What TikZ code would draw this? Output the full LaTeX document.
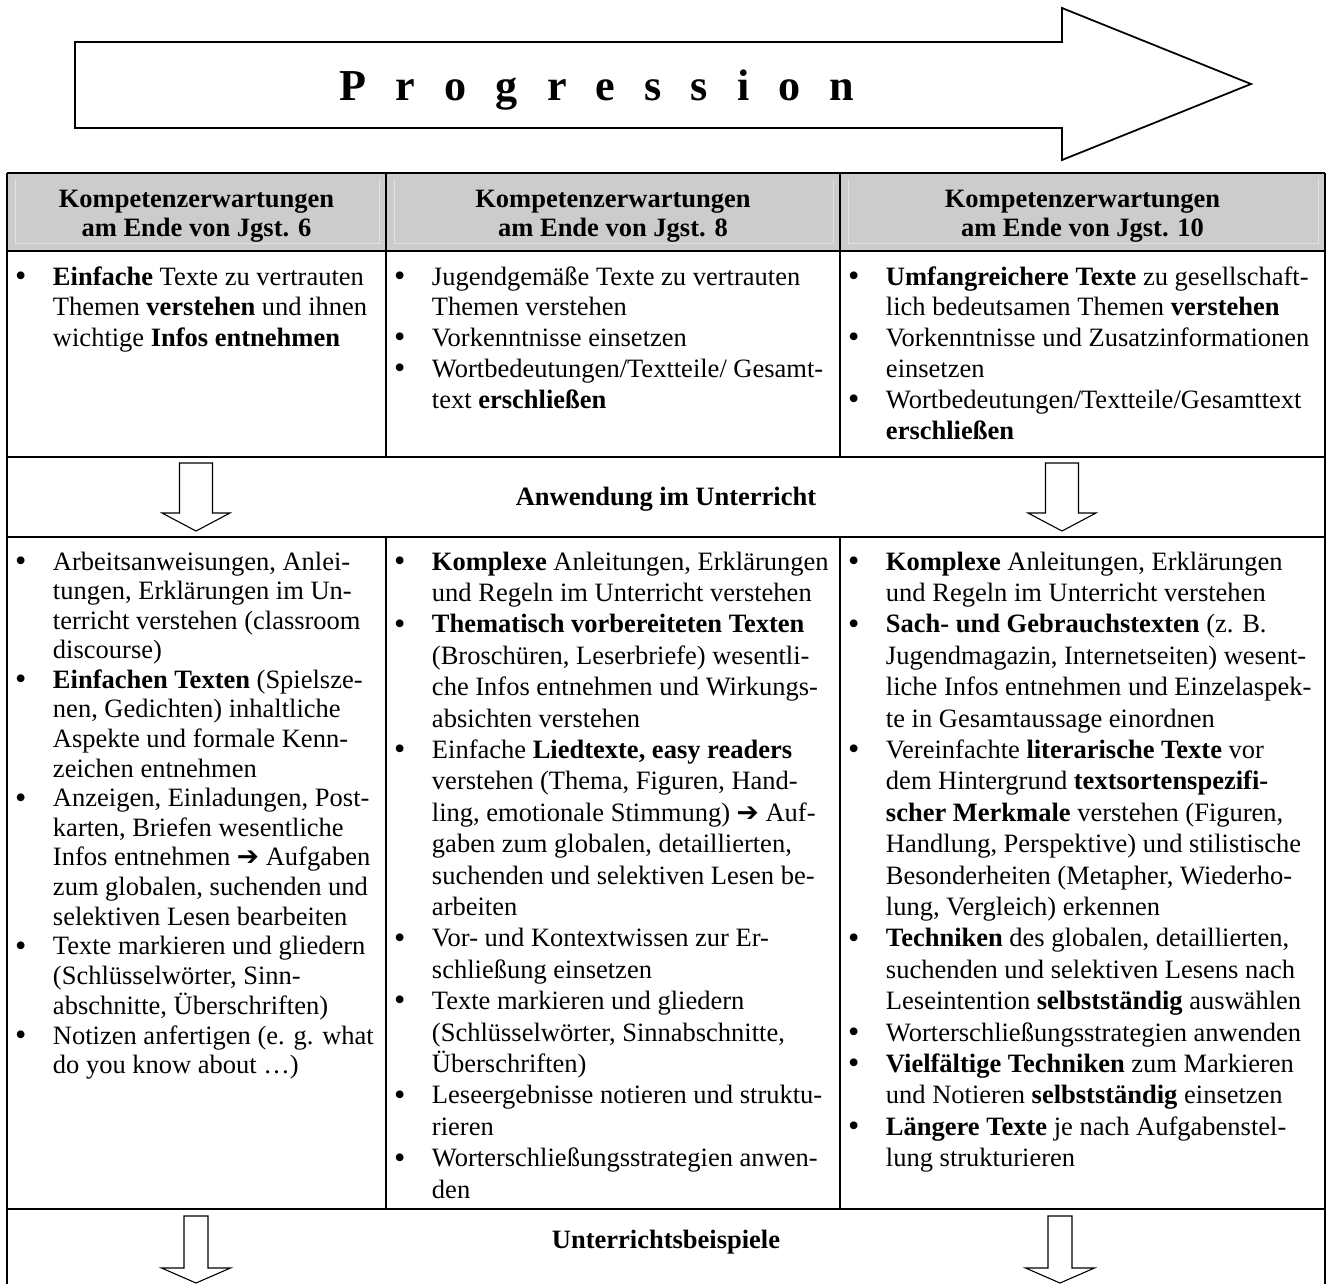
\documentclass[tikz,border=0pt]{standalone}
\usepackage{fontspec}
\setmainfont{Liberation Serif}
\newfontfamily\arrowfont{DejaVu Sans}
\usetikzlibrary{positioning}

\definecolor{kopfgrau}{gray}{0.80}
\definecolor{kopflinie}{gray}{0.89}
\newlength\bulletcol
\setlength\bulletcol{17.2pt}
\newcommand{\pfeil}{{\arrowfont\symbol{"2794}}}
\newcommand{\pkt}{\raisebox{-0.05em}{\scalebox{1.22}{\textbullet}}}
\newcommand{\liste}[1]{\begin{tabular}[t]{@{}p{\bulletcol}@{}l@{}}#1\end{tabular}}
\newcommand{\kopf}[1]{\begin{tabular}[t]{@{}c@{}}Kompetenzerwartungen\\am Ende von Jgst. #1\end{tabular}}

\begin{document}
\begin{tikzpicture}[x=0.4528pt, y=-0.4528pt,
  every node/.style={inner sep=0pt, outer sep=0pt},
  zelle/.style={anchor=base west, font=\fontsize{12}{13.95}\selectfont},
  zelleeng/.style={zelle, font=\fontsize{12}{13.4}\selectfont},
  zelleweit/.style={zelle, font=\fontsize{12}{14.22}\selectfont},
  kopfzeile/.style={anchor=base, font=\fontsize{12}{13.58}\selectfont\bfseries},
  zeile/.style={anchor=base, font=\fontsize{12}{13.58}\selectfont\bfseries},
  rahmen/.style={line width=0.8pt},
  spalte/.style={line width=0.55pt},
  pfeilrand/.style={line width=0.5pt}]
\useasboundingbox (0,0) rectangle (1328,1284);

% Progression arrow
\draw[rahmen] (75,42) -- (1062,42) -- (1062,8) -- (1251,84) -- (1062,160) -- (1062,128) -- (75,128) -- cycle;
\node[anchor=base, font=\fontsize{20}{22}\selectfont\bfseries] (prog) at (597,100)
  {\makebox[233pt][s]{P\hfill r\hfill o\hfill g\hfill r\hfill e\hfill s\hfill s\hfill i\hfill o\hfill n}};

% header row
\fill[kopfgrau] (7,173) rectangle (1325,251);
\foreach \l/\r in {7/386, 386/840, 840/1325}
  \draw[kopflinie, line width=0.4pt] (\l+8,179) -- (\l+8,243) -- (\r-7,243) -- (\r-7,179);

% table lines
\draw[rahmen] (7,173) -- (1325,173) (7,251) -- (1325,251) (7,457) -- (1325,457)
  (7,537) -- (1325,537) (7,1209) -- (1325,1209) (7,173) -- (7,1284) (1325,173) -- (1325,1284);
\draw[spalte] (386,173) -- (386,457) (840,173) -- (840,457) (386,537) -- (386,1209) (840,537) -- (840,1209);

% down arrows
\foreach \cx/\top/\tip/\hh/\sw/\hw in {196/463/531/18/16.5/34, 1062/463/531/18/16.5/34,
                                       196/1216/1283/15/12/34.5, 1060/1216/1283/15/12/34.5}
  \draw[pfeilrand] (\cx-\sw,\top) -- (\cx+\sw,\top) -- (\cx+\sw,\tip-\hh) -- (\cx+\hw,\tip-\hh)
    -- (\cx,\tip) -- (\cx-\hw,\tip-\hh) -- (\cx-\sw,\tip-\hh) -- cycle;

\node[kopfzeile] (k6) at (196.5,207) {\kopf{6}};
\node[kopfzeile] (k8) at (613,207) {\kopf{8}};
\node[kopfzeile] (k10) at (1082.5,207) {\kopf{10}};

\node[zelle] (e6) at (15,285) {\liste{%
\pkt & \textbf{Einfache} Texte zu vertrauten\\
 & Themen \textbf{verstehen} und ihnen\\
 & wichtige \textbf{Infos entnehmen}}};
\node[zelle] (e8) at (394,285) {\liste{%
\pkt & Jugendgemäße Texte zu vertrauten\\
 & Themen verstehen\\
\pkt & Vorkenntnisse einsetzen\\
\pkt & Wortbedeutungen/Textteile/ Gesamt-\\
 & text \textbf{erschließen}}};
\node[zelle] (e10) at (848,285) {\liste{%
\pkt & \textbf{Umfangreichere Texte} zu gesellschaft-\\
 & lich bedeutsamen Themen \textbf{verstehen}\\
\pkt & Vorkenntnisse und Zusatzinformationen\\
 & einsetzen\\
\pkt & Wortbedeutungen/Textteile/Gesamttext\\
 & \textbf{erschließen}}};

\node[zeile] (anw) at (666,505) {Anwendung im Unterricht};

\node[zelleeng] (u6) at (15,570) {\liste{%
\pkt & Arbeitsanweisungen, Anlei-\\
 & tungen, Erklärungen im Un-\\
 & terricht verstehen (classroom\\
 & discourse)\\
\pkt & \textbf{Einfachen Texten} (Spielsze-\\
 & nen, Gedichten) inhaltliche\\
 & Aspekte und formale Kenn-\\
 & zeichen entnehmen\\
\pkt & Anzeigen, Einladungen, Post-\\
 & karten, Briefen wesentliche\\
 & Infos entnehmen \pfeil{} Aufgaben\\
 & zum globalen, suchenden und\\
 & selektiven Lesen bearbeiten\\
\pkt & Texte markieren und gliedern\\
 & (Schlüsselwörter, Sinn-\\
 & abschnitte, Überschriften)\\
\pkt & Notizen anfertigen (e. g. what\\
 & do you know about …)}};
\node[zelleweit] (u8) at (394,570) {\liste{%
\pkt & \textbf{Komplexe} Anleitungen, Erklärungen\\
 & und Regeln im Unterricht verstehen\\
\pkt & \textbf{Thematisch vorbereiteten Texten}\\
 & (Broschüren, Leserbriefe) wesentli-\\
 & che Infos entnehmen und Wirkungs-\\
 & absichten verstehen\\
\pkt & Einfache \textbf{Liedtexte, easy readers}\\
 & verstehen (Thema, Figuren, Hand-\\
 & ling, emotionale Stimmung) \pfeil{} Auf-\\
 & gaben zum globalen, detaillierten,\\
 & suchenden und selektiven Lesen be-\\
 & arbeiten\\
\pkt & Vor- und Kontextwissen zur Er-\\
 & schließung einsetzen\\
\pkt & Texte markieren und gliedern\\
 & (Schlüsselwörter, Sinnabschnitte,\\
 & Überschriften)\\
\pkt & Leseergebnisse notieren und struktu-\\
 & rieren\\
\pkt & Worterschließungsstrategien anwen-\\
 & den}};
\node[zelleweit] (u10) at (848,570) {\liste{%
\pkt & \textbf{Komplexe} Anleitungen, Erklärungen\\
 & und Regeln im Unterricht verstehen\\
\pkt & \textbf{Sach- und Gebrauchstexten} (z. B.\\
 & Jugendmagazin, Internetseiten) wesent-\\
 & liche Infos entnehmen und Einzelaspek-\\
 & te in Gesamtaussage einordnen\\
\pkt & Vereinfachte \textbf{literarische Texte} vor\\
 & dem Hintergrund \textbf{textsortenspezifi-}\\
 & \textbf{scher Merkmale} verstehen (Figuren,\\
 & Handlung, Perspektive) und stilistische\\
 & Besonderheiten (Metapher, Wiederho-\\
 & lung, Vergleich) erkennen\\
\pkt & \textbf{Techniken} des globalen, detaillierten,\\
 & suchenden und selektiven Lesens nach\\
 & Leseintention \textbf{selbstständig} auswählen\\
\pkt & Worterschließungsstrategien anwenden\\
\pkt & \textbf{Vielfältige Techniken} zum Markieren\\
 & und Notieren \textbf{selbstständig} einsetzen\\
\pkt & \textbf{Längere Texte} je nach Aufgabenstel-\\
 & lung strukturieren}};

\node[zeile] (bsp) at (666,1248) {Unterrichtsbeispiele};
\end{tikzpicture}
\end{document}
